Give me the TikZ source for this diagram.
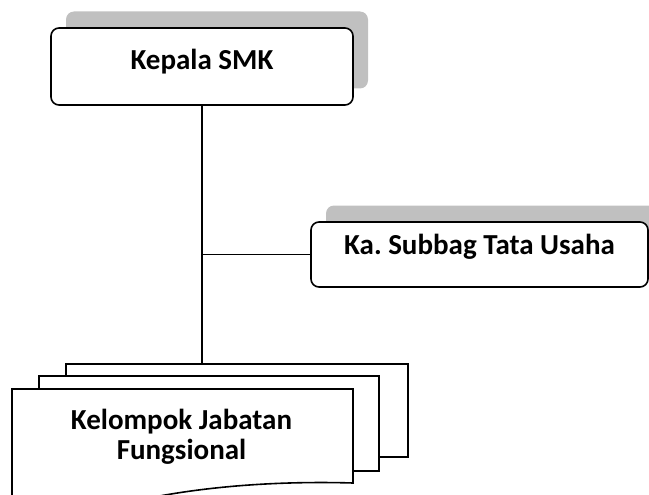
\documentclass[tikz,border=0pt]{standalone}
\usepackage{fontspec}
\setmainfont{Carlito}
\frenchspacing
\usetikzlibrary{shadows}
\begin{document}
\begin{tikzpicture}[x=1pt,y=-1pt]
  \definecolor{shade}{HTML}{C0C0C0}
  \tikzset{
    label/.style={align=center,font=\fontsize{29}{30}\selectfont\bfseries},
    unit/.style={label,draw=black,fill=white,line width=1.6pt,rounded corners=8pt,
      general shadow={fill=shade,shadow xshift=15pt,shadow yshift=16.5pt}},
    sheet/.style={draw=black,fill=white,line width=1.6pt},
    link/.style={line width=1.6pt}
  }
  \useasboundingbox (0,0) rectangle (649,495);
  \clip (0,0) rectangle (649,495);
  \node [unit,minimum width=302pt,minimum height=77pt,text height=16pt,text depth=9pt] (kepala) at (202,66.5) {Kepala SMK};
  \node [unit,minimum width=337pt,minimum height=65pt,text height=10pt,text depth=11pt] (subbag) at (479.5,254.5) {Ka. Subbag Tata Usaha};
  \node [sheet,minimum width=342pt,minimum height=93pt] (sheetc) at (237,410.5) {};
  \node [sheet,minimum width=340pt,minimum height=95pt] (sheetb) at (209,423.5) {};
  \filldraw [sheet] (12,520) -- (12,389) -- (353,389) -- (353,483)
    .. controls (285,481) and (205,485) .. (130,502) -- (12,520);
  \node [label] (fung) at (181.5,437) {Kelompok Jabatan\\Fungsional};
  \draw [link] (kepala.south) -- (kepala.south |- sheetc.north);
  \draw [link] (kepala.south |- subbag.west) -- (subbag.west);
\end{tikzpicture}
\end{document}
